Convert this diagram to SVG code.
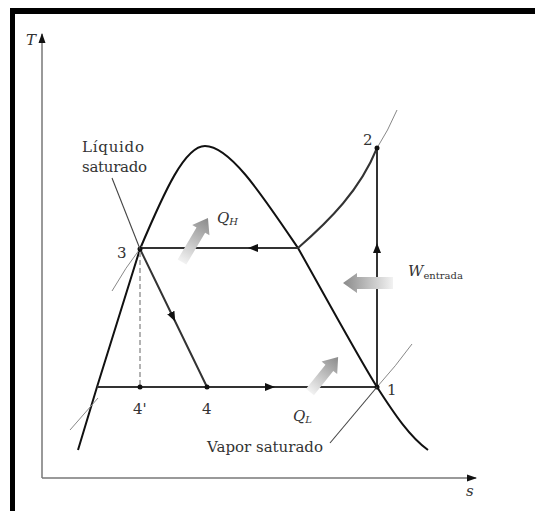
<svg xmlns="http://www.w3.org/2000/svg" width="535" height="511" viewBox="0 0 535 511">
<style>
.lbl{font-family:"DejaVu Serif","Liberation Serif",serif;font-size:15px;fill:#333}
.it{font-style:italic}
.sub{font-size:10px}
.dome{fill:none;stroke:#111;stroke-width:2}
.cyc{fill:none;stroke:#333;stroke-width:2}
.thin{fill:none;stroke:#888;stroke-width:1}
.lead{fill:none;stroke:#444;stroke-width:1.1}
.axis{fill:none;stroke:#777;stroke-width:1.5}
.dot{fill:#111}
</style>
<defs>
<marker id="mid" markerUnits="userSpaceOnUse" markerWidth="10" markerHeight="8" refX="5" refY="4" orient="auto">
<path d="M0,0 L10,4 L0,8 Z" fill="#111"/>
</marker>
<marker id="ax" markerUnits="userSpaceOnUse" markerWidth="10" markerHeight="8" refX="9" refY="4" orient="auto">
<path d="M0,0.5 L10,4 L0,7.5 Z" fill="#111"/>
</marker>
<linearGradient id="fade" x1="0" y1="0" x2="1" y2="0">
<stop offset="0" stop-color="#f2f2f2"/>
<stop offset="1" stop-color="#8a8a8a"/>
</linearGradient>
</defs>
<rect x="10" y="8" width="525" height="6" fill="#000"/>
<rect x="10" y="8" width="5" height="503" fill="#000"/>
<g id="axes">
<path class="axis" d="M42,478 L42,34" marker-end="url(#ax)"/>
<path class="axis" d="M42,478 L476,478" marker-end="url(#ax)"/>
<text class="lbl it" x="26" y="45" font-size="14">T</text>
<text class="lbl it" x="466" y="496" font-size="14">s</text>
</g>
<g id="dome">
<path class="dome" d="M78,450 L97,387 L140,249 C165,190 185,146 205,146 C230,146 262,195 298,248 C330,305 360,360 377,387 C395,415 410,437 428,450"/>
</g>
<g id="isobars">
<path class="thin" d="M112,291 Q125,268 142,246"/>
<path class="thin" d="M70,430 Q84,414 98,398"/>
<path class="thin" d="M377,387 Q396,366 412,344"/>
<path class="thin" d="M377,148 Q388,131 397,110"/>
</g>
<g id="connectors">
<path class="cyc" d="M298,248 C330,220 360,190 377,148"/>
<path class="cyc" d="M377,387 L377,248 L377,148" marker-mid="url(#mid)"/>
<path class="cyc" d="M298,248 L253,248 L140,248" marker-mid="url(#mid)"/>
<path class="cyc" d="M140,249 L173,317 L207,387" marker-mid="url(#mid)"/>
<path class="cyc" d="M97,387 L207,387"/>
<path class="cyc" d="M207,387 L270,387 L377,387" marker-mid="url(#mid)"/>
<path d="M140,252 L140,386" fill="none" stroke="#999" stroke-width="1.5" stroke-dasharray="5,3"/>
</g>
<g id="state-1"><circle class="dot" cx="377" cy="387" r="2.5"/><text class="lbl" x="387" y="395">1</text></g>
<g id="state-2"><circle class="dot" cx="377" cy="148" r="2.5"/><text class="lbl" x="363" y="145">2</text></g>
<g id="state-3"><circle class="dot" cx="140" cy="249" r="2.5"/><text class="lbl" x="117" y="258">3</text></g>
<g id="state-4"><circle class="dot" cx="207" cy="387" r="2.5"/><text class="lbl" x="202" y="414">4</text></g>
<g id="state-4p"><circle class="dot" cx="140" cy="387" r="2.5"/><text class="lbl" x="133" y="414">4'</text></g>
<g id="liquido-saturado">
<path class="lead" d="M112,178 L140,249"/>
<text class="lbl" x="82" y="152" textLength="62">Líquido</text>
<text class="lbl" x="82" y="172" textLength="65">saturado</text>
</g>
<g id="vapor-saturado">
<path class="lead" d="M330,443 L377,387"/>
<text class="lbl" x="207" y="452" textLength="116">Vapor saturado</text>
</g>
<g id="QH">
<path d="M0,-5 L37,-5 L37,-10 L51,0 L37,10 L37,5 L0,5 Z" fill="url(#fade)" transform="translate(182,262) rotate(-59.4)"/>
<text class="lbl it" x="217" y="223">Q<tspan class="sub" dy="2">H</tspan></text>
</g>
<g id="QL">
<path d="M0,-5 L31,-5 L31,-10 L45,0 L31,10 L31,5 L0,5 Z" fill="url(#fade)" transform="translate(310,392) rotate(-51.3)"/>
<text class="lbl it" x="293" y="421">Q<tspan class="sub" dy="2">L</tspan></text>
</g>
<g id="Wentrada">
<path d="M0,-6 L36,-6 L36,-10 L50,0 L36,10 L36,6 L0,6 Z" fill="url(#fade)" transform="translate(393,283) rotate(180)"/>
<text class="lbl it" x="408" y="276">W<tspan class="sub" font-style="normal" dy="3">entrada</tspan></text>
</g>
</svg>
